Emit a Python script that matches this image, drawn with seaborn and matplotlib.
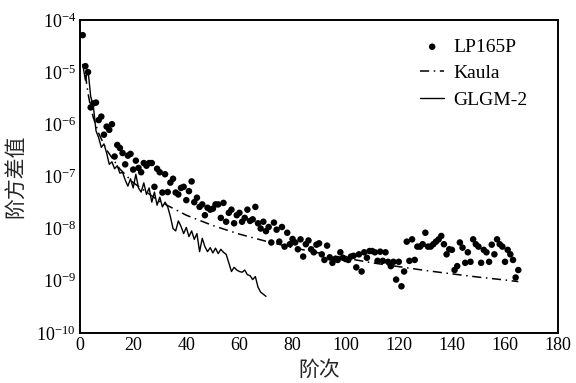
import numpy as np
import pandas as pd
import matplotlib
matplotlib.use("Agg")
import matplotlib.pyplot as plt
import seaborn as sns
from matplotlib.ticker import LogLocator, LogFormatterSciNotation, FixedLocator

# ---------------- data ----------------
lp_deg = list(range(1, 166))
lp_val = [
    5.1e-5, 1.3e-5, 1.0e-5, 2.1e-6, 2.5e-6, 2.6e-6, 1.2e-6, 1.4e-6, 6.3e-7, 9e-7,
    7.8e-7, 1.0e-6, 2.4e-7, 4.0e-7, 3.5e-7, 2.8e-7, 1.7e-7, 2.5e-7, 2.7e-7, 1.35e-7,
    2.0e-7, 1.45e-7, 1.2e-7, 1.8e-7, 1.6e-7, 1.8e-7, 1.8e-7, 6.3e-8, 1.4e-7, 1.2e-7,
    4.9e-8, 1.1e-7, 5.0e-8, 7.6e-8, 9.0e-8, 4.9e-8, 4.5e-8, 6.0e-8, 6.3e-8, 3.5e-8,
    5.2e-8, 8.0e-8, 3.2e-8, 3.9e-8, 2.6e-8, 2.9e-8, 1.8e-8, 2.5e-8, 2.3e-8, 2.4e-8,
    2.9e-8, 2.9e-8, 1.6e-8, 3.1e-8, 1.35e-8, 2.0e-8, 2.3e-8, 1.26e-8, 1.8e-8, 2.0e-8,
    1.35e-8, 1.6e-8, 2.3e-8, 1.4e-8, 1.5e-8, 2.6e-8, 1.26e-8, 1.0e-8, 1.35e-8, 8.9e-9,
    1.07e-8, 5.4e-9, 1.3e-8, 9.5e-9, 5.6e-9, 1.07e-8, 4.5e-9, 8.3e-9, 5.0e-9, 6.3e-9,
    5.4e-9, 4.0e-9, 6.2e-9, 2.9e-9, 5.0e-9, 5.9e-9, 4.0e-9, 3.5e-9, 4.9e-9, 5.2e-9,
    3.2e-9, 2.5e-9, 4.7e-9, 2.8e-9, 2.2e-9, 2.6e-9, 2.5e-9, 3.5e-9, 2.75e-9, 2.6e-9,
    2.5e-9, 2.9e-9, 3.0e-9, 1.8e-9, 3.2e-9, 1.5e-9, 3.5e-9, 2.75e-9, 3.7e-9, 3.7e-9,
    3.5e-9, 2.4e-9, 3.6e-9, 2.4e-9, 3.5e-9, 2.3e-9, 1.9e-9, 2.3e-9, 1.05e-9, 2.3e-9,
    7.8e-10, 1.5e-9, 5.6e-9, 2.4e-9, 6.2e-9, 2.5e-9, 4.5e-9, 4.5e-9, 5.0e-9, 8.3e-9,
    4.5e-9, 4.5e-9, 5.0e-9, 5.6e-9, 6.2e-9, 7.2e-9, 5.0e-9, 3.2e-9, 4.0e-9, 3.9e-9,
    1.6e-9, 1.9e-9, 5.4e-9, 4.3e-9, 2.2e-9, 3.5e-9, 2.3e-9, 6.2e-9, 5.0e-9, 4.5e-9,
    2.2e-9, 3.9e-9, 3.5e-9, 2.3e-9, 4.9e-9, 3.2e-9, 6.2e-9, 5.0e-9, 4.5e-9, 2.3e-9,
    3.9e-9, 3.2e-9, 2.5e-9, 1.15e-9, 1.6e-9,
]

kaula_deg = [2, 3, 4, 5, 7, 10, 15, 20, 30, 40, 50, 60, 70, 80, 90, 100, 110, 120,
             130, 140, 150, 160, 165]
kaula_val = [8.9e-6, 3.9e-6, 2.1e-6, 1.34e-6, 6.7e-7, 3.2e-7, 1.38e-7, 7.6e-8, 3.3e-8,
             1.8e-8, 1.14e-8, 7.8e-9, 5.7e-9, 4.3e-9, 3.4e-9, 2.7e-9, 2.2e-9, 1.86e-9,
             1.57e-9, 1.35e-9, 1.17e-9, 1.03e-9, 9.6e-10]

glgm_deg = list(range(1, 71))
glgm_val = [
    1.4e-5, 7e-6, 1.1e-5, 3.4e-6, 2.2e-6, 7.5e-7, 5.5e-7, 3.6e-7, 4.2e-7, 2.8e-7,
    1.7e-7, 1.9e-7, 1.4e-7, 1.6e-7, 1.15e-7, 1.2e-7, 8.5e-8, 6.5e-8, 9e-8, 6.0e-8,
    1.1e-7, 6e-8, 5e-8, 7.5e-8, 4.5e-8, 6e-8, 3.2e-8, 5e-8, 2.8e-8, 4e-8,
    2.6e-8, 3.2e-8, 2.6e-8, 1.7e-8, 1.0e-8, 9e-9, 1.4e-8, 1.1e-8, 8e-9, 1.05e-8,
    7e-9, 9e-9, 6.2e-9, 8e-9, 3.6e-9, 6.5e-9, 4.5e-9, 3.6e-9, 4.3e-9, 3.4e-9,
    4.2e-9, 3.3e-9, 4e-9, 3.5e-9, 3.2e-9, 2.2e-9, 1.5e-9, 1.8e-9, 1.6e-9, 1.5e-9,
    1.45e-9, 1.6e-9, 1.3e-9, 1.25e-9, 1.05e-9, 1.2e-9, 7.5e-10, 6e-10, 5.5e-10, 5e-10,
]

x_ticks = [0, 20, 40, 60, 80, 100, 120, 140, 160, 180]
x_label = "阶次"
y_label = "阶方差值"
series_names = ["LP165P", "Kaula", "GLGM-2"]

# ---------------- style ----------------
sns.set_theme(style="white")
plt.rcParams["font.family"] = ["Liberation Serif", "Noto Sans CJK SC", "DejaVu Sans"]
plt.rcParams["mathtext.fontset"] = "stix"

df_lp = pd.DataFrame({"deg": lp_deg, "val": lp_val})
df_k = pd.DataFrame({"deg": kaula_deg, "val": kaula_val})
df_g = pd.DataFrame({"deg": glgm_deg, "val": glgm_val})

fig = plt.figure(figsize=(5.76, 3.83), dpi=100)
ax = fig.add_axes([0.139, 0.131, 0.830, 0.817])

sns.scatterplot(data=df_lp, x="deg", y="val", ax=ax, color="black", s=22,
                edgecolor="none", marker="o", label=series_names[0], zorder=3)
sns.lineplot(data=df_k, x="deg", y="val", ax=ax, color="black", linewidth=1.1,
             linestyle=(0, (6, 3, 1, 3)), label=series_names[1], errorbar=None)
sns.lineplot(data=df_g, x="deg", y="val", ax=ax, color="black", linewidth=1.0,
             label=series_names[2], errorbar=None)

ax.set_yscale("log")
ax.set_xlim(0, 180)
ax.set_ylim(1e-10, 1e-4)
ax.xaxis.set_major_locator(FixedLocator(x_ticks))
ax.yaxis.set_major_locator(LogLocator(base=10, numticks=10))
ax.yaxis.set_major_formatter(LogFormatterSciNotation())
ax.yaxis.set_minor_locator(plt.NullLocator())
ax.tick_params(axis="both", which="major", direction="in", length=4, width=1,
               labelsize=13, color="black", labelcolor="black", pad=3)
ax.xaxis.get_offset_text().set_visible(False)
ax.yaxis.get_offset_text().set_visible(False)
for sp in ax.spines.values():
    sp.set_visible(True)
    sp.set_color("black")
    sp.set_linewidth(1.4)

ax.set_xlabel(x_label, fontsize=15, family=["Noto Sans CJK SC"])
ax.set_ylabel(y_label, fontsize=15, family=["Noto Sans CJK SC"])
ax.xaxis.set_label_coords(0.5, -0.083)
ax.yaxis.set_label_coords(-0.112, 0.5)

leg = ax.legend(loc="upper right", frameon=False, fontsize=14, handlelength=1.2,
                handletextpad=0.5, labelspacing=0.45, borderaxespad=0.3,
                bbox_to_anchor=(0.965, 0.985))
for t in leg.get_texts():
    t.set_color("black")

fig.savefig("out.png", dpi=100)
